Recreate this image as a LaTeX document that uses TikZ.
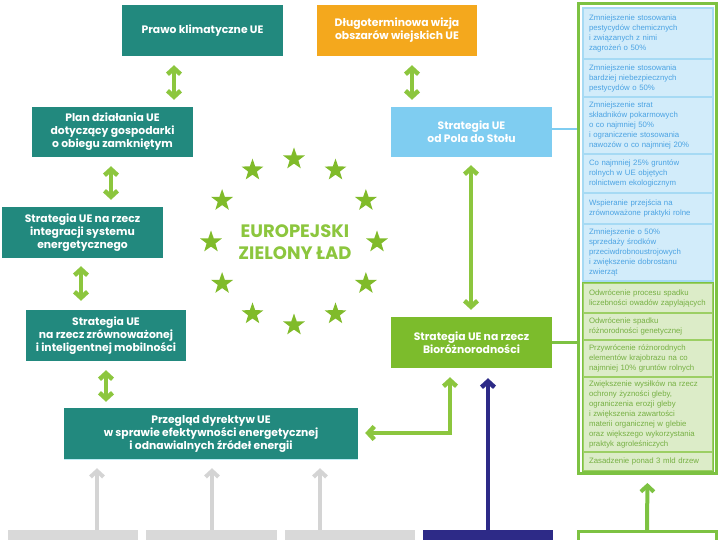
\documentclass[tikz,border=0pt]{standalone}
\usepackage{fontspec}
\setmainfont{Poppins}
\newfontfamily\cellfont{Liberation Sans}
\usetikzlibrary{arrows.meta,shapes.geometric,calc}
\definecolor{teal}{HTML}{22897E}
\definecolor{orng}{HTML}{F4A81D}
\definecolor{lblue}{HTML}{7FCDF1}
\definecolor{bgreen}{HTML}{7CBC2C}
\definecolor{lime}{HTML}{8CC63E}
\definecolor{starc}{HTML}{80BB2A}
\definecolor{dblue}{HTML}{2D2A87}
\definecolor{lgray}{HTML}{D9D9D9}
\definecolor{agray}{HTML}{D4D4D4}
\definecolor{cgreen}{HTML}{7DC242}
\definecolor{bcfill}{HTML}{D2ECFA}
\definecolor{bcline}{HTML}{A6DAF4}
\definecolor{bctext}{HTML}{4BA3E3}
\definecolor{gcfill}{HTML}{DCECC8}
\definecolor{gcline}{HTML}{9CCF64}
\definecolor{gctext}{HTML}{76B043}
\definecolor{cyanedge}{HTML}{BDEBF4}
\begin{document}
\begin{tikzpicture}[x=1pt,y=-1pt,
  mainbox/.style={minimum height=51pt, inner sep=0pt, align=center, text=white,
    font=\fontsize{10.8}{13}\selectfont\bfseries},
  bcell/.style={fill=bcfill, draw=bcline, line width=1.2pt, text width=118pt, inner xsep=6pt, inner ysep=0pt,
    align=left, text=bctext, font=\cellfont\fontsize{7.8}{10}\selectfont},
  gcell/.style={fill=gcfill, draw=gcline, line width=1.2pt, text width=118pt, inner xsep=6pt, inner ysep=0pt,
    align=left, text=gctext, font=\cellfont\fontsize{7.8}{10}\selectfont},
  dbl/.style={draw=lime, line width=4.5pt, {Straight Barb[length=6pt,width=13pt]}-{Straight Barb[length=6pt,width=13pt]}},
  uparr/.style={line width=4pt, -{Straight Barb[length=6pt,width=13pt]}},
  botbox/.style={minimum width=130pt, minimum height=10pt, inner sep=0pt},
  estar/.style={star, star points=5, star point ratio=2.5, fill=starc, minimum size=23pt, inner sep=0pt}
]
\useasboundingbox (0,0) rectangle (720,540);

% main boxes
\node[mainbox, fill=teal, minimum width=161pt] (prawo) at (202.5,30.5) {Prawo klimatyczne UE};
\node[mainbox, fill=orng, minimum width=160pt] (dlugo) at (397,30.5) {Długoterminowa wizja\\obszarów wiejskich UE};
\node[mainbox, fill=teal, minimum width=161pt, minimum height=50pt] (plan) at (112.5,132) {Plan działania UE\\dotyczący gospodarki\\o obiegu zamkniętym};
\node[mainbox, fill=teal, minimum width=161pt] (integ) at (82.5,232.5) {Strategia UE na rzecz\\integracji systemu\\energetycznego};
\node[mainbox, fill=teal, minimum width=160pt] (mobil) at (106,335.5) {Strategia UE\\na rzecz zrównoważonej\\i inteligentnej mobilności};
\node[mainbox, fill=teal, minimum width=294pt] (przeglad) at (211,433.5) {Przegląd dyrektyw UE\\w sprawie efektywności energetycznej\\i odnawialnych źródeł energii};
\draw[cyanedge, line width=1pt] (przeglad.south west) -- (przeglad.south east);
\node[mainbox, fill=lblue, minimum width=161pt, minimum height=50pt] (pola) at (471.5,132) {Strategia UE\\od Pola do Stołu};
\node[mainbox, fill=bgreen, minimum width=161pt] (bio) at (471.5,342.5) {Strategia UE na rzecz\\Bioróżnorodności};

% title and stars
\node[text=lime, align=center, font=\fontsize{18}{22}\selectfont\bfseries] (title) at (295,242) {EUROPEJSKI\\ZIELONY ŁAD};
\foreach \a in {0,30,...,330}
  \node[estar] (star\a) at ($(294,242)+(\a:83)$) {};

% right column
\node[draw=cgreen, line width=3pt, minimum width=138pt, minimum height=470pt, inner sep=0pt] (col) at (647.5,238.5) {};
\node[bcell, minimum height=51pt] (b1) at (648,33.5) {Zmniejszenie stosowania\\pestycydów chemicznych\\i związanych z nimi\\zagrożeń o 50\%};
\node[bcell, minimum height=38pt] (b2) at (648,78) {Zmniejszenie stosowania\\bardziej niebezpiecznych\\pestycydów o 50\%};
\node[bcell, minimum height=57pt] (b3) at (648,125.5) {Zmniejszenie strat\\składników pokarmowych\\o co najmniej 50\%\\i ograniczenie stosowania\\nawozów o co najmniej 20\%};
\node[bcell, minimum height=39pt] (b4) at (648,173.5) {Co najmniej 25\% gruntów\\rolnych w UE objętych\\rolnictwem ekologicznym};
\node[bcell, minimum height=31pt] (b5) at (648,208.5) {Wspieranie przejścia na\\zrównoważone praktyki rolne};
\node[bcell, minimum height=57pt] (b6) at (648,252.5) {Zmniejszenie o 50\%\\sprzedaży środków\\przeciwdrobnoustrojowych\\i zwiększenie dobrostanu\\zwierząt};
\node[gcell, minimum height=30pt] (g1c) at (648,298) {Odwrócenie procesu spadku\\liczebności owadów zapylających};
\node[gcell, minimum height=27pt] (g2c) at (648,326.5) {Odwrócenie spadku\\różnorodności genetycznej};
\node[gcell, minimum height=37pt] (g3c) at (648,358.5) {Przywrócenie różnorodnych\\elementów krajobrazu na co\\najmniej 10\% gruntów rolnych};
\node[gcell, minimum height=75pt] (g4c) at (648,414.5) {Zwiększenie wysiłków na rzecz\\ochrony żyzności gleby,\\ograniczenia erozji gleby\\i zwiększenia zawartości\\materii organicznej w glebie\\oraz większego wykorzystania\\praktyk agroleśniczych};
\node[gcell, minimum height=19pt] (g5c) at (648,461.5) {Zasadzenie ponad 3 mld drzew};
\draw[cgreen, line width=1.5pt] (g1c.north west) rectangle (g5c.south east);

% bottom boxes
\node[botbox, fill=lgray] (gb1) at (73,535) {};
\node[botbox, fill=lgray, minimum width=131pt] (gb2) at (211.5,535) {};
\node[botbox, fill=lgray] (gb3) at (350,535) {};
\node[botbox, fill=dblue] (db) at (488,535) {};
\node[draw=cgreen, fill=white, line width=3pt, minimum width=138pt, minimum height=14pt, inner sep=0pt] (gob) at (647,538.5) {};

% helper x positions
\coordinate (x1) at (174,0);
\coordinate (x2) at (412,0);
\coordinate (x3) at (111,0);
\coordinate (x4) at (81,0);
\coordinate (x5) at (106,0);
\coordinate (x6) at (471,0);
\coordinate (elb) at (450,433);
\coordinate (ga1) at (97,0);
\coordinate (ga2) at (212,0);
\coordinate (ga3) at (320,0);

% double arrows
\draw[dbl, shorten <=9pt, shorten >=7pt] (prawo.south -| x1) -- (plan.north -| x1);
\draw[dbl, shorten <=9pt, shorten >=7pt] (dlugo.south -| x2) -- (pola.north -| x2);
\draw[dbl, shorten <=9pt, shorten >=7pt] (plan.south -| x3) -- (integ.north -| x3);
\draw[dbl, shorten <=8pt, shorten >=9pt] (integ.south -| x4) -- (mobil.north -| x4);
\draw[dbl, shorten <=9pt, shorten >=6pt] (mobil.south -| x5) -- (przeglad.north -| x5);
\draw[dbl, shorten <=8pt, shorten >=7pt] (pola.south -| x6) -- (bio.north -| x6);
\draw[dbl, shorten <=9pt, shorten >=7pt] (bio.south -| elb) |- (przeglad.east |- elb);

% connectors to column
\draw[lblue, line width=2pt] ([yshift=3pt]pola.east) -- ([yshift=3pt]pola.east -| col.west);
\draw[cgreen, line width=3pt] (bio.east) -- (bio.east -| col.west);

% upward arrows
\draw[uparr, agray, shorten >=9pt] (gb1.north -| ga1) -- (przeglad.south -| ga1);
\draw[uparr, agray, shorten >=9pt] (gb2.north -| ga2) -- (przeglad.south -| ga2);
\draw[uparr, agray, shorten >=9pt] (gb3.north -| ga3) -- (przeglad.south -| ga3);
\draw[uparr, dblue, line width=4.5pt, shorten >=10pt] (db.north) -- (bio.south -| db.north);
\draw[uparr, cgreen, shorten >=8pt] (gob.north) -- (col.south);
\end{tikzpicture}
\end{document}
